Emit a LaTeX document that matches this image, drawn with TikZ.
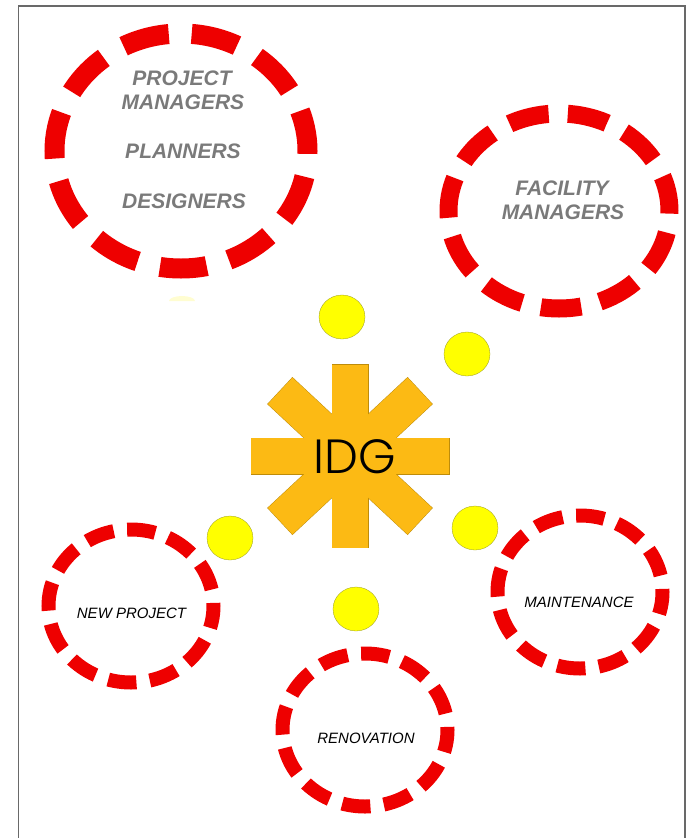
\documentclass[tikz,border=0pt]{standalone}
\usepackage{fontspec}
\setmainfont{Liberation Sans}
\newfontfamily\idgfont{Poppins Light}
\usetikzlibrary{shapes.geometric}
\definecolor{ringred}{RGB}{238,0,0}
\definecolor{txtgray}{RGB}{122,122,122}
\definecolor{starfill}{RGB}{252,186,20}
\definecolor{starline}{RGB}{190,140,10}
\definecolor{dotfill}{RGB}{255,255,0}
\definecolor{dotline}{RGB}{150,150,40}
\definecolor{framecol}{RGB}{105,105,105}
\tikzset{
  ring/.style={ellipse, draw=ringred, inner sep=0pt, outer sep=0pt},
  bigring/.style={ring, line width=20pt, minimum width=253pt, minimum height=235pt,
     dash pattern=on 47pt off 23pt, dash phase=6pt},
  facring/.style={ring, line width=18pt, minimum width=221pt, minimum height=195pt,
     dash pattern=on 40.5pt off 19.2pt, dash phase=5.2pt},
  smallring/.style={ring, line width=14pt, minimum width=165pt, minimum height=153pt,
     dash pattern=on 28.4pt off 13.5pt, dash phase=25.3pt},
  dot/.style={ellipse, fill=dotfill, draw=dotline, line width=0.3pt, minimum width=46pt, minimum height=44pt, inner sep=0pt},
  graylabel/.style={anchor=base, text=txtgray, font=\fontsize{21}{21}\selectfont\bfseries\itshape, inner sep=0pt},
  blacklabel/.style={anchor=base, text=black, font=\fontsize{15}{15}\selectfont\itshape, inner sep=0pt},
  armline/.style={draw=starline, line width=1pt},
  armfill/.style={fill=starfill},
}
\begin{document}
\begin{tikzpicture}[x=1pt,y=1pt]
\useasboundingbox (0,0) rectangle (690,-838);
% frame
\draw[framecol, line width=1.5pt] (18.5,-838) -- (18.5,-6) -- (685,-6) -- (685,-838);

% rings
\node[bigring] (pm) at (181,-151) {};
\node[facring] (fm) at (559,-211) {};
\node[smallring] (np) at (131,-606) {};
\node[smallring] (mt) at (580,-592) {};
\node[smallring] (rn) at (365,-730) {};

% faint dot under big ring
\fill[yellow!18] (169,-301) arc[start angle=180, end angle=0, x radius=13, y radius=5] -- cycle;

% yellow dots
\node[dot] (d1) at (342,-317) {};
\node[dot] (d2) at (467,-354) {};
\node[dot] (d3) at (475,-528) {};
\node[dot] (d4) at (230,-538) {};
\node[dot] (d5) at (356,-609) {};

% star
\coordinate (sc) at (350,-456);
\foreach \st in {armline, armfill}{
  \path[\st] ([shift={(-99,-18)}]sc) rectangle ([shift={(99,18)}]sc);
  \path[\st] ([shift={(-18,-91.5)}]sc) rectangle ([shift={(18,91.5)}]sc);
  \path[\st, rotate around={43:(sc)}] ([shift={(-95.5,-18)}]sc) rectangle ([shift={(95.5,18)}]sc);
  \path[\st, rotate around={-43:(sc)}] ([shift={(-95.5,-18)}]sc) rectangle ([shift={(95.5,18)}]sc);
}
\node[anchor=base, inner sep=0pt, font=\idgfont\fontsize{48}{48}\selectfont] (idg) at (355,-473) {IDG};

% labels
\node[graylabel] (t1) at (182,-85) {PROJECT};
\node[graylabel] (t2) at (183,-109) {MANAGERS};
\node[graylabel] (t3) at (183,-158.5) {PLANNERS};
\node[graylabel] (t4) at (184,-208.5) {DESIGNERS};
\node[graylabel] (t5) at (562,-195) {FACILITY};
\node[graylabel] (t6) at (563,-219) {MANAGERS};
\node[blacklabel] (t7) at (131.5,-618) {NEW PROJECT};
\node[blacklabel] (t8) at (579,-607) {MAINTENANCE};
\node[blacklabel] (t9) at (366,-743) {RENOVATION};
\end{tikzpicture}
\end{document}
